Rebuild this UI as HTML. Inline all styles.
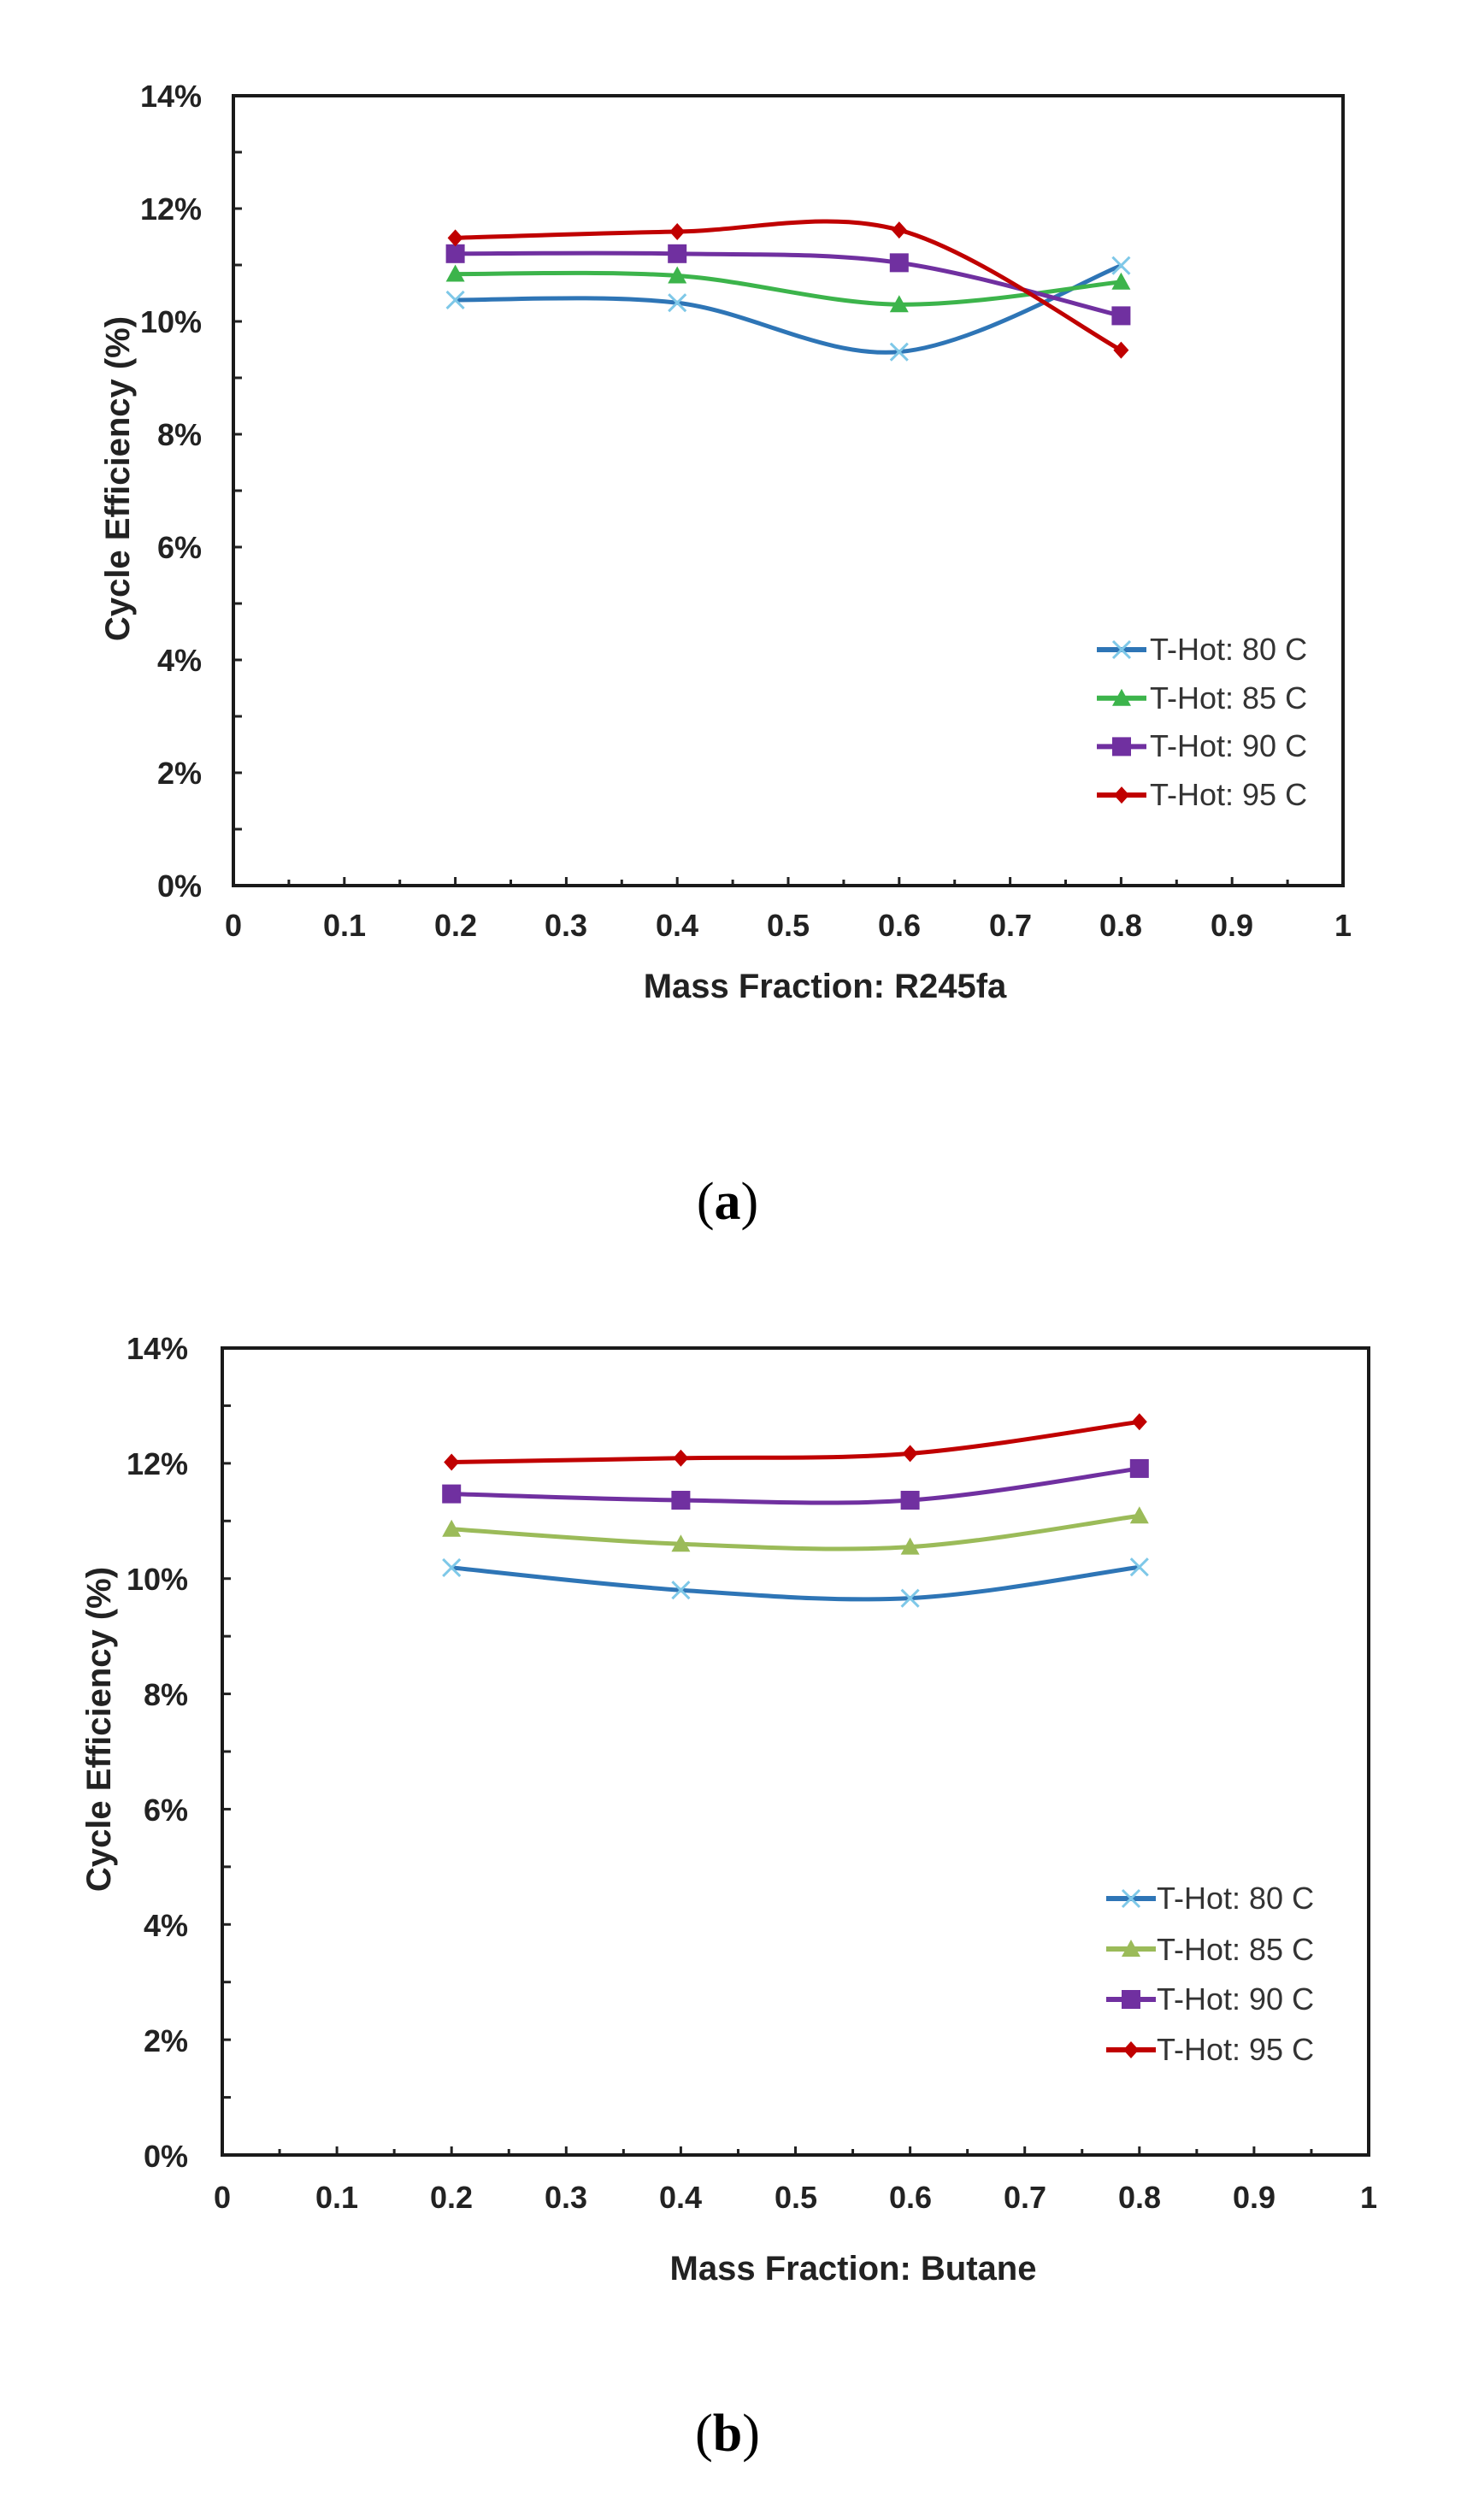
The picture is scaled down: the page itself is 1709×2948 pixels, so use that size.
<!DOCTYPE html>
<html><head><meta charset="utf-8">
<style>
html,body{margin:0;padding:0;background:#fff;}
svg{display:block;}
.tk{font-family:"Liberation Sans",sans-serif;font-weight:bold;font-size:36px;fill:#222;}
.tt{font-family:"Liberation Sans",sans-serif;font-weight:bold;font-size:40px;fill:#222;}
.lg{font-family:"Liberation Sans",sans-serif;font-size:36px;fill:#333;}
.cap{font-family:"Liberation Serif",serif;font-size:62px;fill:#000;}
</style></head>
<body>
<svg id="s" width="1709" height="2948" viewBox="0 0 1709 2948" xmlns="http://www.w3.org/2000/svg">
<rect width="1709" height="2948" fill="#fff"/>
<g id="ga"></g>
<g id="gb"></g>
<g class="tk" text-anchor="end">
<text x="236" y="125">14%</text><text x="236" y="257">12%</text><text x="236" y="389">10%</text>
<text x="236" y="521">8%</text><text x="236" y="653">6%</text><text x="236" y="785">4%</text>
<text x="236" y="917">2%</text><text x="236" y="1049">0%</text>
</g>
<g class="tk" text-anchor="middle">
<text x="273" y="1095">0</text><text x="403" y="1095">0.1</text><text x="533" y="1095">0.2</text>
<text x="662" y="1095">0.3</text><text x="792" y="1095">0.4</text><text x="922" y="1095">0.5</text>
<text x="1052" y="1095">0.6</text><text x="1182" y="1095">0.7</text><text x="1311" y="1095">0.8</text>
<text x="1441" y="1095">0.9</text><text x="1571" y="1095">1</text>
</g>
<text class="tt" x="965" y="1167" text-anchor="middle">Mass Fraction: R245fa</text>
<text class="tt" transform="translate(151,560) rotate(-90)" text-anchor="middle">Cycle Efficiency (%)</text>
<g class="lg"><text x="1345" y="772">T-Hot: 80 C</text><text x="1345" y="829">T-Hot: 85 C</text>
<text x="1345" y="885">T-Hot: 90 C</text><text x="1345" y="942">T-Hot: 95 C</text></g>
<text class="cap" x="851" y="1426" text-anchor="middle">(<tspan font-weight="bold">a</tspan>)</text>
<g class="tk" text-anchor="end">
<text x="220" y="1590">14%</text><text x="220" y="1725">12%</text><text x="220" y="1860">10%</text>
<text x="220" y="1995">8%</text><text x="220" y="2130">6%</text><text x="220" y="2265">4%</text>
<text x="220" y="2400">2%</text><text x="220" y="2535">0%</text>
</g>
<g class="tk" text-anchor="middle">
<text x="260" y="2583">0</text><text x="394" y="2583">0.1</text><text x="528" y="2583">0.2</text>
<text x="662" y="2583">0.3</text><text x="796" y="2583">0.4</text><text x="931" y="2583">0.5</text>
<text x="1065" y="2583">0.6</text><text x="1199" y="2583">0.7</text><text x="1333" y="2583">0.8</text>
<text x="1467" y="2583">0.9</text><text x="1601" y="2583">1</text>
</g>
<text class="tt" x="998" y="2667" text-anchor="middle">Mass Fraction: Butane</text>
<text class="tt" transform="translate(129,2023) rotate(-90)" text-anchor="middle">Cycle Efficiency (%)</text>
<g class="lg"><text x="1353" y="2233">T-Hot: 80 C</text><text x="1353" y="2293">T-Hot: 85 C</text>
<text x="1353" y="2351">T-Hot: 90 C</text><text x="1353" y="2410">T-Hot: 95 C</text></g>
<text class="cap" x="851" y="2867" text-anchor="middle">(<tspan font-weight="bold">b</tspan>)</text>
</svg>
<script>
var NS="http://www.w3.org/2000/svg";
function el(g,n,a){var e=document.createElementNS(NS,n);for(var k in a)e.setAttribute(k,a[k]);g.appendChild(e);return e;}
function marker(g,t,x,y,c){
 if(t==0){el(g,"path",{d:"M"+(x-10)+" "+(y-10)+"L"+(x+10)+" "+(y+10)+"M"+(x-10)+" "+(y+10)+"L"+(x+10)+" "+(y-10),stroke:"#7ec8e8","stroke-width":3,fill:"none"});}
 else if(t==1){el(g,"path",{d:"M"+x+" "+(y-11)+"L"+(x+11)+" "+(y+9)+"L"+(x-11)+" "+(y+9)+"Z",fill:c});}
 else if(t==2){el(g,"rect",{x:x-11,y:y-11,width:22,height:22,fill:c});}
 else {el(g,"path",{d:"M"+x+" "+(y-10)+"L"+(x+9)+" "+y+"L"+x+" "+(y+10)+"L"+(x-9)+" "+y+"Z",fill:c});}
}
function smooth(p){var d="M"+p[0][0]+" "+p[0][1];
 for(var i=0;i<p.length-1;i++){var p0=p[Math.max(0,i-1)],p1=p[i],p2=p[i+1],p3=p[Math.min(p.length-1,i+2)];
  var c1x=p1[0]+(p2[0]-p0[0])/6,c1y=p1[1]+(p2[1]-p0[1])/6,c2x=p2[0]-(p3[0]-p1[0])/6,c2y=p2[1]-(p3[1]-p1[1])/6;
  d+="C"+c1x+" "+c1y+" "+c2x+" "+c2y+" "+p2[0]+" "+p2[1];}
 return d;}
function plot(g,L,T,R,B,data,cols,leg){
 var W=R-L,H=B-T;
 for(var i=1;i<20;i++){var x=L+W*i/20;el(g,"line",{x1:x,y1:B,x2:x,y2:B-(i%2?7:10),stroke:"#222","stroke-width":3});}
 for(var i=1;i<14;i++){var y=B-H*i/14;el(g,"line",{x1:L,y1:y,x2:L+10,y2:y,stroke:"#222","stroke-width":3});}
 el(g,"rect",{x:L,y:T,width:W,height:H,fill:"none",stroke:"#1a1a1a","stroke-width":4});
 var xs=[0.2,0.4,0.6,0.8];
 for(var s=0;s<4;s++){var pts=xs.map(function(v,j){return [L+W*v,B-H*data[s][j]/14];});
  el(g,"path",{d:smooth(pts),stroke:cols[s],"stroke-width":5,fill:"none"});
  pts.forEach(function(p){marker(g,s,p[0],p[1],cols[s]);});
  var ly=leg[1]+s*leg[2];
  el(g,"line",{x1:leg[0],y1:ly,x2:leg[0]+58,y2:ly,stroke:cols[s],"stroke-width":6});
  marker(g,s,leg[0]+29,ly,cols[s]);
 }
}
plot(document.getElementById("ga"),273,112,1571,1036,
 [[10.38,10.33,9.46,10.99],[10.84,10.81,10.30,10.70],[11.2,11.2,11.04,10.1],[11.48,11.59,11.62,9.49]],
 ["#2e75b6","#3cb44b","#7030a0","#c00000"],[1283,760,56.7]);
plot(document.getElementById("gb"),260,1577,1601,2521,
 [[10.19,9.80,9.66,10.20],[10.86,10.60,10.55,11.09],[11.47,11.36,11.36,11.91],[12.02,12.09,12.17,12.72]],
 ["#2e75b6","#9bbb59","#7030a0","#c00000"],[1294,2221,59]);
</script>
</body></html>
